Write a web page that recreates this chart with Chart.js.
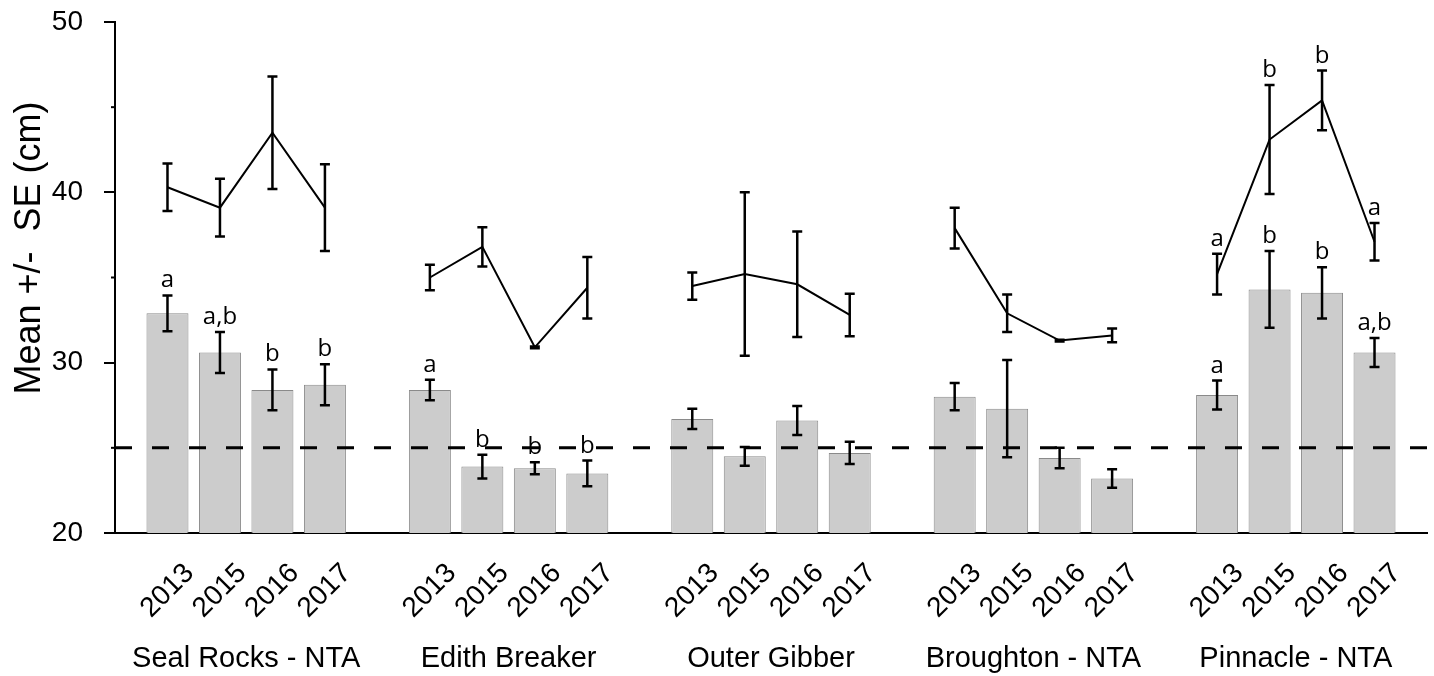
<!DOCTYPE html>
<html>
<head>
<meta charset="utf-8">
<script src="https://cdn.jsdelivr.net/npm/chart.js@4"></script>
<style>
  html, body { margin: 0; padding: 0; background: #fff; }
  #wrap { width: 1434px; height: 676px; }
</style>
</head>
<body>
<div id="wrap"><canvas id="sizeChart"></canvas></div>
<script>
// sites and survey years
const sites = ["Seal Rocks - NTA", "Edith Breaker", "Outer Gibber", "Broughton - NTA", "Pinnacle - NTA"];
const years = ["2013", "2015", "2016", "2017"];

// grey bars: mean size per site / year
const barMean = [
  [32.9, 30.6, 28.4, 28.7],
  [28.4, 23.9, 23.8, 23.5],
  [26.7, 24.5, 26.6, 24.7],
  [28.0, 27.3, 24.4, 23.2],
  [28.1, 34.3, 34.1, 30.6],
];
const barSE = [
  [1.05, 1.2, 1.2, 1.2],
  [0.6, 0.7, 0.35, 0.75],
  [0.6, 0.55, 0.85, 0.65],
  [0.8, 2.85, 0.6, 0.55],
  [0.85, 2.25, 1.5, 0.85],
];
const barLetters = [
  ["a", "a,b", "b", "b"],
  ["a", "b", "b", "b"],
  ["", "", "", ""],
  ["", "", "", ""],
  ["a", "b", "b", "a,b"],
];

// black line: mean size per site / year
const lineMean = [
  [40.3, 39.1, 43.5, 39.1],
  [35.0, 36.8, 30.9, 34.4],
  [34.5, 35.2, 34.6, 32.8],
  [37.9, 32.9, 31.3, 31.6],
  [35.2, 43.1, 45.4, 37.1],
];
const lineSE = [
  [1.4, 1.7, 3.3, 2.55],
  [0.75, 1.15, 0.05, 1.8],
  [0.8, 4.8, 3.1, 1.25],
  [1.2, 1.1, 0.05, 0.4],
  [1.2, 3.2, 1.75, 1.1],
];
const lineLetters = [
  ["", "", "", ""],
  ["", "", "", ""],
  ["", "", "", ""],
  ["", "", "", ""],
  ["a", "b", "b", "a"],
];

const threshold = 25;
const yTicks = [20, 30, 40, 50];
const yMinorTicks = [25, 35, 45];
const yTitle = "Mean +/-  SE (cm)";

const FONT = '"Liberation Sans", Arial, sans-serif';
const SLOTS = sites.length * (years.length + 1);

// each site takes 4 slots plus one empty slot as a gap
const barPoints = [], barErr = [], barLab = [];
const linePoints = [], lineErr = [], lineLab = [];
sites.forEach((s, g) => {
  years.forEach((yr, i) => {
    const slot = g * (years.length + 1) + i + 1;
    barPoints.push({ x: slot, y: barMean[g][i] });
    barErr.push(barSE[g][i]);
    barLab.push(barLetters[g][i]);
    linePoints.push({ x: slot, y: lineMean[g][i] });
    lineErr.push(lineSE[g][i]);
    lineLab.push(lineLetters[g][i]);
  });
  if (g < sites.length - 1) {
    linePoints.push({ x: (g + 1) * (years.length + 1), y: null });
    lineErr.push(null);
    lineLab.push("");
  }
});

// error bars + significance letters
const errorBars = {
  id: "errorBars",
  afterDatasetsDraw(chart) {
    const ctx = chart.ctx;
    const yScale = chart.scales.y;
    chart.data.datasets.forEach((ds, di) => {
      if (!ds.errors) return;
      const meta = chart.getDatasetMeta(di);
      meta.data.forEach((el, i) => {
        const v = ds.data[i].y;
        const se = ds.errors[i];
        if (v == null || se == null) return;
        const top = yScale.getPixelForValue(v + se);
        const bot = yScale.getPixelForValue(v - se);
        ctx.save();
        ctx.strokeStyle = "#000";
        ctx.lineWidth = 2.5;
        ctx.beginPath();
        ctx.moveTo(el.x, top); ctx.lineTo(el.x, bot);
        ctx.moveTo(el.x - 5, top); ctx.lineTo(el.x + 5, top);
        ctx.moveTo(el.x - 5, bot); ctx.lineTo(el.x + 5, bot);
        ctx.stroke();
        const t = ds.letters[i];
        if (t) {
          ctx.fillStyle = "#000";
          ctx.font = '24px "Open Sans", sans-serif';
          ctx.textAlign = "center";
          ctx.textBaseline = "alphabetic";
          ctx.fillText(t, el.x, top - 8);
        }
        ctx.restore();
      });
    });
  },
};

// minor y ticks, y title and site names under the years
const extras = {
  id: "extras",
  afterDraw(chart) {
    const ctx = chart.ctx;
    const x = chart.scales.x, y = chart.scales.y;
    ctx.save();
    ctx.strokeStyle = "#000";
    ctx.lineWidth = 2;
    yMinorTicks.forEach(v => {
      const py = y.getPixelForValue(v);
      ctx.beginPath();
      ctx.moveTo(y.right - 4, py);
      ctx.lineTo(y.right, py);
      ctx.stroke();
    });
    ctx.fillStyle = "#000";
    ctx.font = "29px " + FONT;
    ctx.textAlign = "center";
    ctx.textBaseline = "middle";
    sites.forEach((s, g) => {
      const mid = g * (years.length + 1) + (years.length + 1) / 2;
      ctx.fillText(s, x.getPixelForValue(mid), 659);
    });
    ctx.translate(30, 248);
    ctx.rotate(-Math.PI / 2);
    ctx.font = "36px " + FONT;
    ctx.fillText(yTitle, 0, 0);
    ctx.restore();
  },
};

new Chart(document.getElementById("sizeChart"), {
  type: "bar",
  data: {
    datasets: [
      {
        type: "line",
        data: [{ x: 0, y: threshold }, { x: SLOTS, y: threshold }],
        borderColor: "#000",
        borderWidth: 3,
        borderDash: [17, 20],
        pointRadius: 0,
        order: 0,
      },
      {
        type: "line",
        data: linePoints,
        errors: lineErr,
        letters: lineLab,
        borderColor: "#000",
        borderWidth: 2,
        pointRadius: 0,
        tension: 0,
        spanGaps: false,
        order: 1,
      },
      {
        type: "bar",
        data: barPoints,
        errors: barErr,
        letters: barLab,
        backgroundColor: "#cccccc",
        borderColor: "#8a8a8a",
        borderWidth: 1,
        barPercentage: 0.8,
        categoryPercentage: 1.0,
        order: 2,
      },
    ],
  },
  options: {
    responsive: true,
    maintainAspectRatio: false,
    animation: false,
    layout: { padding: { top: 22, right: 7, bottom: 0, left: 0 } },
    plugins: { legend: { display: false }, tooltip: { enabled: false } },
    scales: {
      x: {
        type: "linear",
        min: 0,
        max: SLOTS,
        offset: false,
        grid: { display: false, drawTicks: false },
        border: { display: true, color: "#000", width: 2 },
        ticks: {
          stepSize: 1,
          autoSkip: false,
          minRotation: 45,
          maxRotation: 45,
          labelOffset: 22,
          padding: 24,
          color: "#000",
          font: { family: FONT, size: 28 },
          callback: (v) => {
            const i = (v - 1) % (years.length + 1);
            return v >= 1 && i < years.length ? years[i] : "";
          },
        },
        afterFit: (s) => {
          s.height = 143;
          s.paddingLeft = 0;
          s.paddingRight = 0;
        },
      },
      y: {
        min: 20,
        max: 50,
        grid: { display: true, drawOnChartArea: false, drawTicks: true, tickLength: 11, color: "#000", lineWidth: 2 },
        border: { display: true, color: "#000", width: 2 },
        ticks: {
          padding: 21,
          color: "#000",
          font: { family: FONT, size: 28 },
        },
        afterBuildTicks: (s) => { s.ticks = yTicks.map(v => ({ value: v })); },
        afterFit: (s) => {
          s.width = 115;
          s.paddingTop = 0;
          s.paddingBottom = 0;
        },
      },
    },
  },
  plugins: [errorBars, extras],
});
</script>
</body>
</html>
